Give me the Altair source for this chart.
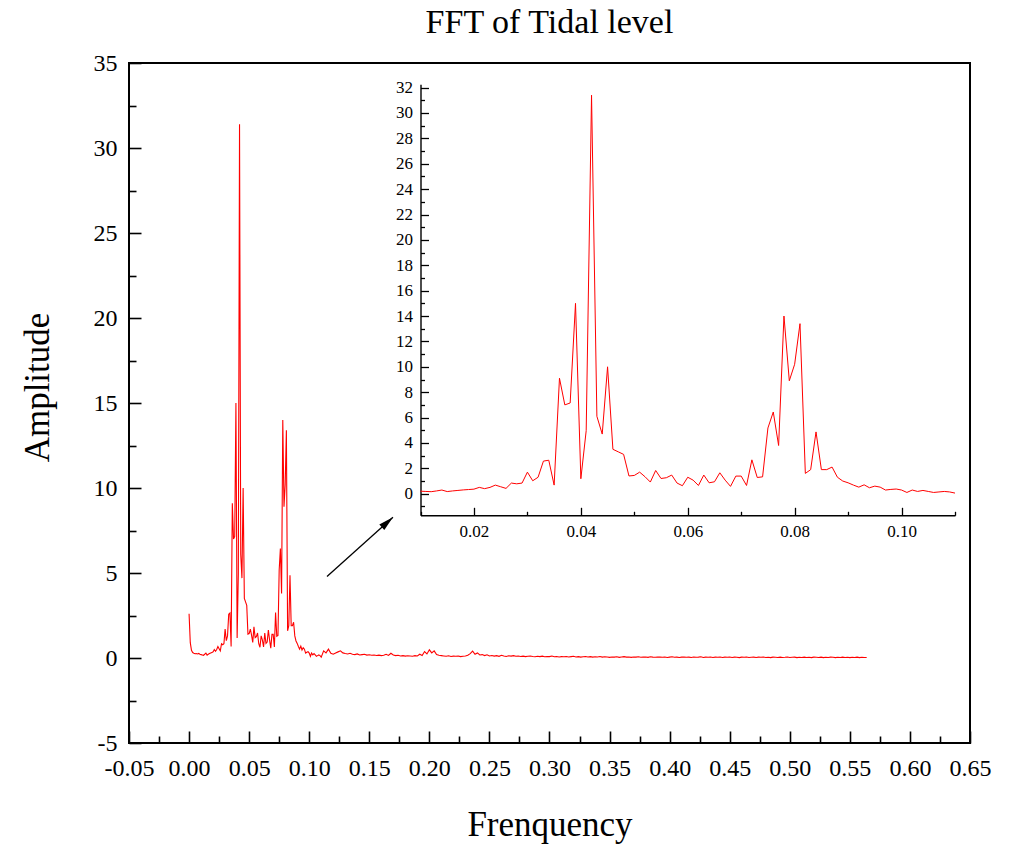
import altair as alt
import numpy as np
import pandas as pd

# ---------------- data ----------------
# amplitudes at 0.000 ... 0.009 (step 0.001)
head_amp = [2.60, 0.90, 0.45, 0.32, 0.28, 0.25, 0.26, 0.24, 0.27, 0.22]

# amplitudes at 0.010 ... 0.110 (step 0.001) - the zoomed region
inset_amp = [
    0.20, 0.18, 0.16, 0.22, 0.29, 0.17, 0.22, 0.26, 0.30, 0.33,
    0.36, 0.50, 0.40, 0.50, 0.68, 0.55, 0.42, 0.84, 0.78, 0.84,
    1.70, 1.02, 1.30, 2.57, 2.64, 0.68, 9.10, 7.00, 7.15, 15.00,
    1.18, 4.97, 31.40, 6.10, 4.70, 10.00, 3.50, 3.30, 3.10, 1.40,
    1.44, 1.70, 1.34, 0.92, 1.83, 1.20, 1.26, 1.47, 0.84, 0.63,
    1.30, 1.07, 0.65, 1.47, 0.86, 0.94, 1.65, 1.07, 0.58, 1.39,
    1.39, 0.65, 2.67, 1.28, 1.33, 5.18, 6.44, 3.80, 14.00, 8.90,
    10.20, 13.40, 1.60, 1.90, 4.87, 1.90, 1.90, 2.10, 1.30, 1.00,
    0.86, 0.68, 0.52, 0.70, 0.47, 0.60, 0.52, 0.29, 0.34, 0.37,
    0.29, 0.10, 0.29, 0.18, 0.26, 0.18, 0.10, 0.14, 0.18, 0.14,
    0.05,
]

# amplitudes at 0.112 ... 0.564 (step 0.002)
tail_amp = [
    0.42, 0.30, 0.52, 0.28, 0.22, 0.30, 0.36, 0.42, 0.30, 0.26,
    0.24, 0.28, 0.22, 0.20, 0.24, 0.18, 0.20, 0.22, 0.17, 0.19,
    0.16, 0.18, 0.15, 0.17, 0.14, 0.16, 0.22, 0.15, 0.28, 0.18,
    0.14, 0.16, 0.12, 0.14, 0.11, 0.13, 0.12, 0.10, 0.14, 0.12,
    0.22, 0.15, 0.38, 0.24, 0.48, 0.30, 0.42, 0.20, 0.16, 0.14,
    0.12, 0.10, 0.13, 0.09, 0.11, 0.10, 0.12, 0.08, 0.10, 0.12,
    0.16, 0.26, 0.40, 0.22, 0.30, 0.18, 0.20, 0.14, 0.19, 0.12,
    0.15, 0.11, 0.14, 0.10, 0.16, 0.12, 0.09, 0.13, 0.11, 0.14,
    0.10, 0.12, 0.09, 0.11, 0.08, 0.10, 0.12, 0.09, 0.07, 0.10,
    0.08, 0.11, 0.07, 0.09, 0.08, 0.12, 0.07, 0.09, 0.06, 0.08,
    0.07, 0.09, 0.06, 0.08, 0.10, 0.06, 0.08, 0.05, 0.07, 0.09,
    0.06, 0.08, 0.05, 0.07, 0.06, 0.09, 0.05, 0.07, 0.06, 0.04,
    0.06, 0.05, 0.07, 0.04, 0.06, 0.08, 0.05, 0.06, 0.04, 0.06,
    0.05, 0.07, 0.04, 0.05, 0.06, 0.04, 0.07, 0.05, 0.04, 0.06,
    0.05, 0.04, 0.06, 0.03, 0.05, 0.07, 0.04, 0.05, 0.03, 0.05,
    0.06, 0.04, 0.05, 0.03, 0.06, 0.04, 0.05, 0.07, 0.03, 0.05,
    0.04, 0.06, 0.03, 0.05, 0.04, 0.06, 0.03, 0.05, 0.04, 0.06,
    0.03, 0.05, 0.04, 0.02, 0.05, 0.04, 0.06, 0.03, 0.04, 0.05,
    0.03, 0.05, 0.04, 0.06, 0.03, 0.04, 0.02, 0.05, 0.04, 0.03,
    0.05, 0.03, 0.04, 0.06, 0.03, 0.04, 0.05, 0.02, 0.04, 0.03,
    0.05, 0.03, 0.04, 0.02, 0.05, 0.04, 0.03, 0.05, 0.02, 0.04,
    0.03, 0.05, 0.04, 0.02, 0.04, 0.03, 0.05, 0.03, 0.04, 0.02,
    0.04, 0.03, 0.05, 0.02, 0.04, 0.03, 0.03,
]

# tick values / labels
main_x_ticks = [-0.05, 0.0, 0.05, 0.10, 0.15, 0.20, 0.25, 0.30, 0.35,
                0.40, 0.45, 0.50, 0.55, 0.60, 0.65]
main_x_minor = [-0.025, 0.025, 0.075, 0.125, 0.175, 0.225, 0.275, 0.325,
                0.375, 0.425, 0.475, 0.525, 0.575, 0.625]
main_y_ticks = [-5, 0, 5, 10, 15, 20, 25, 30, 35]
main_y_minor = [-2.5, 2.5, 7.5, 12.5, 17.5, 22.5, 27.5, 32.5]

inset_x_ticks = [0.02, 0.04, 0.06, 0.08, 0.10]
inset_x_minor = [0.01, 0.03, 0.05, 0.07, 0.09, 0.11]
inset_y_ticks = [0, 2, 4, 6, 8, 10, 12, 14, 16, 18, 20, 22, 24, 26, 28, 30, 32]
inset_y_minor = [-1, 1, 3, 5, 7, 9, 11, 13, 15, 17, 19, 21, 23, 25, 27, 29, 31]

arrow_from = [0.1148, 4.8]
arrow_to = [0.1697, 8.28]

# ---------------- tables ----------------
head_freq = np.round(0.000 + 0.001 * np.arange(len(head_amp)), 3)
inset_freq = np.round(0.010 + 0.001 * np.arange(len(inset_amp)), 3)
tail_freq = np.round(0.112 + 0.002 * np.arange(len(tail_amp)), 3)

df = pd.DataFrame({
    "freq": np.concatenate([head_freq, inset_freq, tail_freq]),
    "amp": head_amp + inset_amp + tail_amp,
})
inset_df = pd.DataFrame({"freq": inset_freq, "amp": inset_amp})
arrow_df = pd.DataFrame({"x": [arrow_from[0]], "y": [arrow_from[1]],
                         "x2": [arrow_to[0]], "y2": [arrow_to[1]]})

# ---------------- layout ----------------
W, H = 841, 680
FONT = "Liberation Serif"
RED = "#FF0000"

# inset placement inside plot area (pixels)
IN_L, IN_R = 291.5, 826.0
IN_B, IN_T = 452.3, 21.3

main_xs = alt.Scale(domain=[-0.05, 0.65], nice=False, zero=False)
main_ys = alt.Scale(domain=[-5, 35], nice=False, zero=False)
in_xs = alt.Scale(domain=[0.01, 0.11], range=[IN_L, IN_R], nice=False, zero=False)
in_ys = alt.Scale(domain=[-1.7, 32.26], range=[IN_B, IN_T], nice=False, zero=False)

lab_x_expr = "datum.value < 0 ? '-' + format(-datum.value, '.2f') : format(datum.value, '.2f')"
lab_y_expr = "datum.value < 0 ? '-' + format(-datum.value, 'd') : format(datum.value, 'd')"


def tick_axis(orient, offset, values, size, width):
    return alt.Axis(orient=orient, offset=offset, values=values, labels=False,
                    domain=False, grid=False, ticks=True, tickSize=size,
                    tickWidth=width, tickColor="black", title=None)


# main line with labels and titles
main_line = alt.Chart(df).mark_line(color=RED, strokeWidth=1.1).encode(
    x=alt.X("freq:Q", scale=main_xs, axis=alt.Axis(
        orient="bottom", values=main_x_ticks, labelExpr=lab_x_expr,
        ticks=False, tickSize=0, domain=False, grid=False,
        labelFont=FONT, labelFontSize=24, labelColor="black", labelPadding=13,
        labelOverlap=False, labelFlush=False,
        title="Frenquency", titleFont=FONT, titleFontSize=35,
        titleFontWeight="normal", titleColor="black",
        titleX=W / 2, titleY=92, titleAlign="center", titleBaseline="alphabetic")),
    y=alt.Y("amp:Q", scale=main_ys, axis=alt.Axis(
        orient="left", values=main_y_ticks, labelExpr=lab_y_expr,
        ticks=False, tickSize=0, domain=False, grid=False,
        labelFont=FONT, labelFontSize=24, labelColor="black", labelPadding=12,
        labelOverlap=False, labelFlush=False,
        title="Amplitude", titleFont=FONT, titleFontSize=35,
        titleFontWeight="normal", titleColor="black",
        titleX=-92, titleY=324, titleAngle=-90, titleAlign="center",
        titleBaseline="middle")),
)

main_major = alt.Chart(df).mark_line(opacity=0).encode(
    x=alt.X("freq:Q", scale=main_xs, axis=tick_axis("top", -H, main_x_ticks, 12, 1.6)),
    y=alt.Y("amp:Q", scale=main_ys, axis=tick_axis("right", -W, main_y_ticks, 12, 1.6)),
)
main_minor = alt.Chart(df).mark_line(opacity=0).encode(
    x=alt.X("freq:Q", scale=main_xs, axis=tick_axis("top", -H, main_x_minor, 7, 1.6)),
    y=alt.Y("amp:Q", scale=main_ys, axis=tick_axis("right", -W, main_y_minor, 7, 1.6)),
)

# inset
inset_line = alt.Chart(inset_df).mark_line(color=RED, strokeWidth=1.0).encode(
    x=alt.X("freq:Q", scale=in_xs, axis=alt.Axis(
        orient="bottom", offset=-(H - IN_B), values=inset_x_ticks,
        format=".2f", ticks=False, tickSize=0, domain=True,
        domainColor="black", domainWidth=1.4, grid=False,
        labelFont=FONT, labelFontSize=17, labelColor="black", labelPadding=8,
        labelOverlap=False, labelFlush=False, title=None)),
    y=alt.Y("amp:Q", scale=in_ys, axis=alt.Axis(
        orient="left", offset=-IN_L, values=inset_y_ticks,
        format="d", ticks=False, tickSize=0, domain=True,
        domainColor="black", domainWidth=1.4, grid=False,
        labelFont=FONT, labelFontSize=17, labelColor="black", labelPadding=8,
        labelOverlap=False, labelFlush=False, title=None)),
)
inset_major = alt.Chart(inset_df).mark_line(opacity=0).encode(
    x=alt.X("freq:Q", scale=in_xs, axis=tick_axis("top", -IN_B, inset_x_ticks, 8, 1.3)),
    y=alt.Y("amp:Q", scale=in_ys, axis=tick_axis("right", IN_L - W, inset_y_ticks, 8, 1.3)),
)
inset_minor = alt.Chart(inset_df).mark_line(opacity=0).encode(
    x=alt.X("freq:Q", scale=in_xs, axis=tick_axis("top", -IN_B, inset_x_minor, 4, 1.3)),
    y=alt.Y("amp:Q", scale=in_ys, axis=tick_axis("right", IN_L - W, inset_y_minor, 4, 1.3)),
)

# arrow
arrow_line = alt.Chart(arrow_df).mark_rule(color="black", strokeWidth=1.3).encode(
    x=alt.X("x:Q", scale=main_xs, axis=None),
    y=alt.Y("y:Q", scale=main_ys, axis=None),
    x2="x2:Q", y2="y2:Q",
)
arrow_head = alt.Chart(arrow_df).mark_point(
    shape="M0,0L0.5,2L-0.5,2Z", filled=True, size=225, angle=48,
    color="black", opacity=1, strokeWidth=0,
).encode(
    x=alt.X("x2:Q", scale=main_xs, axis=None),
    y=alt.Y("y2:Q", scale=main_ys, axis=None),
)

chart = alt.layer(
    main_line, main_major, main_minor,
    inset_line, inset_major, inset_minor,
    arrow_line, arrow_head,
).resolve_scale(
    x="independent", y="independent"
).resolve_axis(
    x="independent", y="independent"
).properties(
    width=W, height=H,
    autosize=alt.AutoSizeParams(type="none"),
    padding={"left": 129, "top": 63, "right": 39, "bottom": 101},
    title=alt.TitleParams("FFT of Tidal level", font=FONT, fontSize=34,
                          fontWeight="normal", color="black", anchor="middle",
                          offset=11),
).configure(
    background="white"
).configure_view(
    stroke="black", strokeWidth=2
)

chart.save("out.html", embed_options={"renderer": "svg", "actions": False})
